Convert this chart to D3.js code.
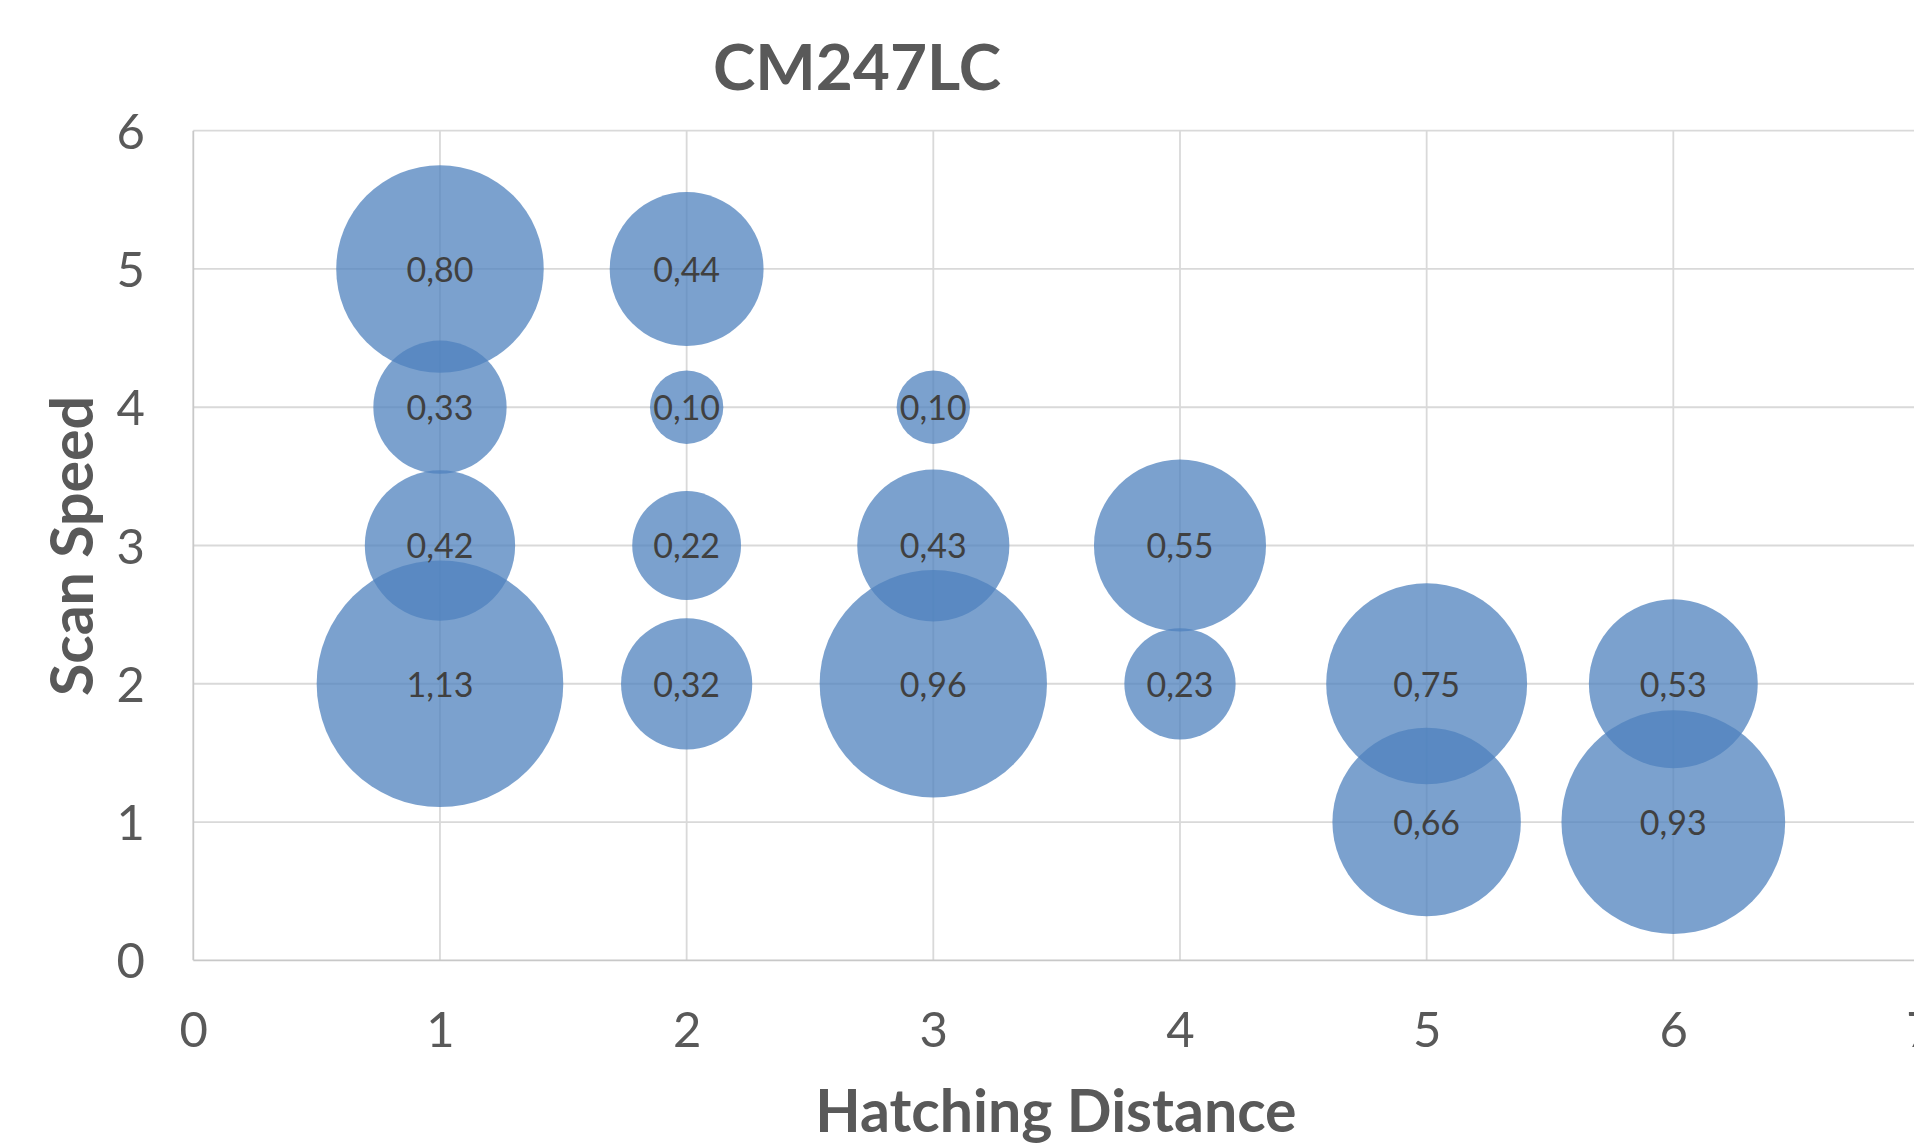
<!DOCTYPE html>
<html>
<head>
<meta charset="utf-8">
<script src="https://cdn.jsdelivr.net/npm/d3@7"></script>
<style>
  html, body { margin: 0; padding: 0; background: #fff; overflow: hidden; }
  svg { display: block; }
</style>
</head>
<body>
<svg id="chart" width="1914" height="1145"></svg>
<script>
// ---- data ----
const chartTitle = "CM247LC";
const xTitle = "Hatching Distance";
const yTitle = "Scan Speed";
const hatching = [1, 1, 1, 1, 2, 2, 2, 2, 3, 3, 3, 4, 4, 5, 5, 6, 6];
const scanSpeed = [5, 4, 3, 2, 5, 4, 3, 2, 4, 3, 2, 3, 2, 2, 1, 2, 1];
const bubbleSize = [0.80, 0.33, 0.42, 1.13, 0.44, 0.10, 0.22, 0.32, 0.10, 0.43, 0.96, 0.55, 0.23, 0.75, 0.66, 0.53, 0.93];
const xTicks = [0, 1, 2, 3, 4, 5, 6, 7];
const yTicks = [0, 1, 2, 3, 4, 5, 6];

const points = hatching.map((h, i) => ({ x: h, y: scanSpeed[i], v: bubbleSize[i] }));

// ---- layout ----
const svg = d3.select("#chart");
const plotLeft = 193.3, plotTop = 130.7, plotBottom = 960.3;
const unitX = 246.67;
const x = d3.scaleLinear().domain([0, 7]).range([plotLeft, plotLeft + 7 * unitX]);
const y = d3.scaleLinear().domain([0, 6]).range([plotBottom, plotTop]);
const r = d3.scaleSqrt().domain([0, d3.max(bubbleSize)]).range([0, 123.3]);

const tickColor = "#595959";
const font = "Lato, 'Open Sans', sans-serif";

// gridlines
const grid = svg.append("g");
grid.selectAll("line.h").data(yTicks.filter(t => t > 0)).join("line")
  .attr("class", "h")
  .attr("x1", x(0)).attr("x2", 1914)
  .attr("y1", d => y(d)).attr("y2", d => y(d))
  .attr("stroke", "#D9D9D9").attr("stroke-width", 1.8);
grid.selectAll("line.v").data(xTicks.filter(t => t > 0)).join("line")
  .attr("class", "v")
  .attr("x1", d => x(d)).attr("x2", d => x(d))
  .attr("y1", y(6)).attr("y2", y(0))
  .attr("stroke", "#D9D9D9").attr("stroke-width", 1.8);

// axis lines
svg.append("line").attr("x1", x(0)).attr("x2", x(0)).attr("y1", y(6)).attr("y2", y(0))
  .attr("stroke", "#C8C8C8").attr("stroke-width", 1.8);
svg.append("line").attr("x1", x(0)).attr("x2", 1914).attr("y1", y(0)).attr("y2", y(0))
  .attr("stroke", "#C8C8C8").attr("stroke-width", 1.8);

// axes labels via d3 axes
const xAxis = svg.append("g").attr("transform", `translate(0,${plotBottom})`)
  .call(d3.axisBottom(x).tickValues(xTicks).tickSize(0).tickPadding(0).tickFormat(d3.format("d")));
xAxis.select(".domain").remove();
xAxis.selectAll("text").attr("y", 87).attr("dy", null)
  .attr("fill", tickColor).style("font-family", font).style("font-size", "49px");

const yAxis = svg.append("g").attr("transform", `translate(145,0)`)
  .call(d3.axisLeft(y).tickValues(yTicks).tickSize(0).tickPadding(0).tickFormat(d3.format("d")));
yAxis.select(".domain").remove();
yAxis.selectAll("text").attr("x", 0).attr("dy", "0.36em")
  .attr("fill", tickColor).style("font-family", font).style("font-size", "49px");

// bubbles
svg.append("g").selectAll("circle").data(points).join("circle")
  .attr("cx", d => x(d.x)).attr("cy", d => y(d.y)).attr("r", d => r(d.v))
  .attr("fill", "#4F81BD").attr("fill-opacity", 0.75);

// bubble labels
const fmt = v => v.toFixed(2).replace(".", ",");
svg.append("g").selectAll("text").data(points).join("text")
  .attr("x", d => x(d.x)).attr("y", d => y(d.y)).attr("dy", "0.38em")
  .attr("text-anchor", "middle").attr("fill", "#404040")
  .style("font-family", font).style("font-size", "34px")
  .text(d => fmt(d.v));

// titles
svg.append("text").attr("x", 857).attr("y", 90).attr("text-anchor", "middle")
  .attr("fill", tickColor).style("font-family", font).style("font-size", "64px").style("font-weight", "bold")
  .text(chartTitle);
svg.append("text").attr("x", 1056).attr("y", 1132).attr("text-anchor", "middle")
  .attr("fill", tickColor).style("font-family", font).style("font-size", "59px").style("font-weight", "bold")
  .text(xTitle);
svg.append("text").attr("transform", "translate(93,546) rotate(-90)").attr("text-anchor", "middle")
  .attr("fill", tickColor).style("font-family", font).style("font-size", "59px").style("font-weight", "bold")
  .text(yTitle);
</script>
</body>
</html>
